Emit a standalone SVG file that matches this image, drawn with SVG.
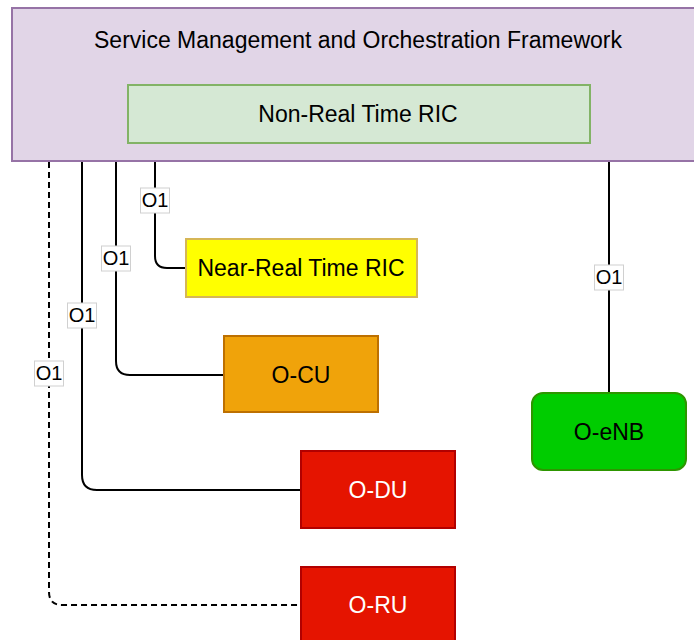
<svg xmlns="http://www.w3.org/2000/svg" width="694" height="640" viewBox="0 0 694 640">
<style>
text{font-family:"Liberation Sans",Arial,sans-serif;text-anchor:middle;fill:#000}
.big{font-size:23px}
.w{fill:#fff}
.lbl rect{fill:#fff;stroke:#d0d0d0;stroke-width:1}
.lbl text{font-size:20px}
.c{fill:none;stroke:#000;stroke-width:2}
.d{stroke-dasharray:6 4}
</style>
<g id="smo">
<rect x="12" y="8" width="700" height="153" fill="#e1d5e7" stroke="#9673a6" stroke-width="2"/>
<text class="big" x="358" y="48">Service Management and Orchestration Framework</text>
</g>
<g id="nonrt">
<rect x="128" y="85" width="462" height="58" fill="#d5e8d4" stroke="#82b366" stroke-width="2"/>
<text class="big" x="358" y="122">Non-Real Time RIC</text>
</g>
<g id="connectors">
<path class="c d" d="M49 162 V592 Q49 605 62 605 H301"/>
<path class="c" d="M82 162 V475 Q82 490 97 490 H301"/>
<path class="c" d="M116 162 V361 Q116 375 130 375 H224"/>
<path class="c" d="M155 162 V256 Q155 268 167 268 H186"/>
<path class="c" d="M609 162 V393"/>
<g class="lbl">
<rect x="140.5" y="188" width="29" height="25"/><text x="155" y="207">O1</text>
<rect x="101.5" y="246" width="29" height="25"/><text x="116" y="265">O1</text>
<rect x="67.5" y="303" width="29" height="25"/><text x="82" y="322">O1</text>
<rect x="34.5" y="361" width="29" height="25"/><text x="49" y="380">O1</text>
<rect x="594.5" y="265" width="29" height="25"/><text x="609" y="284">O1</text>
</g>
</g>
<g id="nearrt">
<rect x="186" y="239" width="231" height="58" fill="#ffff00" stroke="#d6b656" stroke-width="2"/>
<text class="big" x="301" y="276">Near-Real Time RIC</text>
</g>
<g id="ocu">
<rect x="224" y="336" width="154" height="76" fill="#f0a30a" stroke="#bd7000" stroke-width="2"/>
<text class="big" x="301" y="383">O-CU</text>
</g>
<g id="oenb">
<rect x="532" y="393" width="154" height="77" rx="11" fill="#00cc00" stroke="#2d9600" stroke-width="2"/>
<text class="big" x="609" y="440">O-eNB</text>
</g>
<g id="odu">
<rect x="301" y="451" width="154" height="77" fill="#e51400" stroke="#b20000" stroke-width="2"/>
<text class="big w" x="378" y="498">O-DU</text>
</g>
<g id="oru">
<rect x="301" y="567" width="154" height="80" fill="#e51400" stroke="#b20000" stroke-width="2"/>
<text class="big w" x="378" y="613">O-RU</text>
</g>
</svg>
